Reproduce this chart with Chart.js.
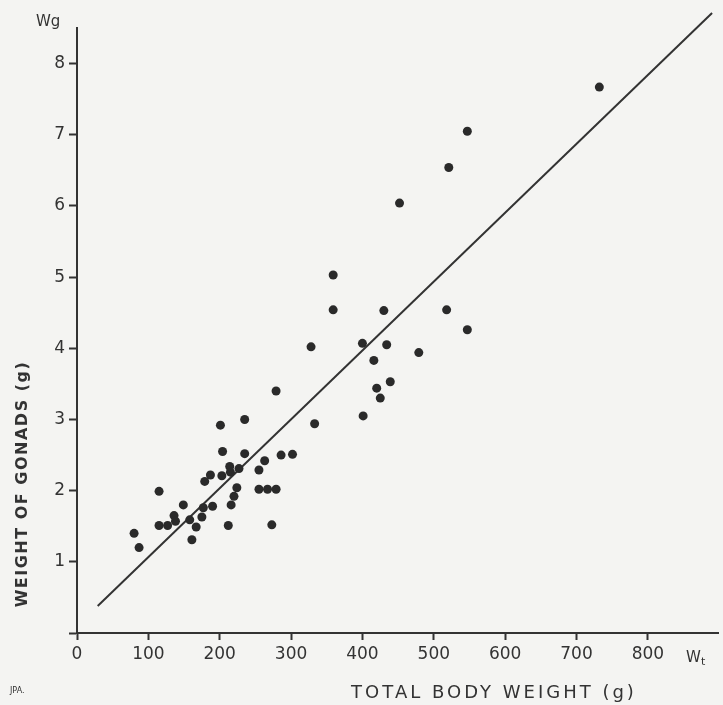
<!DOCTYPE html>
<html>
<head>
<meta charset="utf-8">
<script src="https://cdn.jsdelivr.net/npm/chart.js@4"></script>
<style>
  html, body { margin: 0; padding: 0; background: #f4f4f2; }
  #wrap { width: 723px; height: 705px; position: relative; }
</style>
</head>
<body>
<div id="wrap"><canvas id="gonadChart" width="723" height="705"></canvas></div>
<script>
// total body weight (g) and weight of gonads (g)
const bodyWeight = [
  80, 87, 115, 115, 127, 136, 138, 149, 158, 161, 167, 175, 177, 179, 187, 190,
  201, 203, 204, 212, 214, 215, 216, 220, 224, 227, 235, 235, 255, 255, 263, 267,
  273, 279, 279, 286, 302, 328, 333, 359, 359, 400, 401, 416, 420, 425, 430, 434,
  439, 452, 479, 518, 521, 547, 547, 732
];
const gonadWeight = [
  1.40, 1.20, 1.99, 1.51, 1.51, 1.65, 1.57, 1.80, 1.59, 1.31, 1.49, 1.63, 1.76, 2.13, 2.22, 1.78,
  2.92, 2.21, 2.55, 1.51, 2.34, 2.26, 1.80, 1.92, 2.04, 2.31, 3.00, 2.52, 2.29, 2.02, 2.42, 2.02,
  1.52, 2.02, 3.40, 2.50, 2.51, 4.02, 2.94, 5.03, 4.54, 4.07, 3.05, 3.83, 3.44, 3.30, 4.53, 4.05,
  3.53, 6.04, 3.94, 4.54, 6.54, 4.26, 7.05, 7.67
];
// fitted regression line, end points as drawn
const fitX = [29, 890];
const fitY = [0.38, 8.71];

const xTicks = [0, 100, 200, 300, 400, 500, 600, 700, 800];
const yTicks = [0, 1, 2, 3, 4, 5, 6, 7, 8];

const ink = "#333";
const font = "'DejaVu Sans', sans-serif";

const annotate = {
  id: "annotate",
  afterDraw(chart) {
    const ctx = chart.ctx;
    ctx.save();
    ctx.fillStyle = ink;
    ctx.textBaseline = "alphabetic";
    // axis end labels
    ctx.font = "15px " + font;
    ctx.fillText("Wg", 36, 26);
    ctx.fillText("W", 686, 662);
    ctx.font = "11px " + font;
    ctx.fillText("t", 701, 665);
    // x axis title
    ctx.font = "18px " + font;
    ctx.letterSpacing = "3px";
    ctx.textAlign = "center";
    ctx.fillText("TOTAL BODY WEIGHT (g)", 494, 698);
    // y axis title
    ctx.translate(27, 484);
    ctx.rotate(-Math.PI / 2);
    ctx.letterSpacing = "1.5px";
    ctx.font = "bold 16px " + font;
    ctx.fillText("WEIGHT OF GONADS (g)", 0, 0);
    ctx.restore();
    ctx.save();
    ctx.fillStyle = ink;
    ctx.font = "8px " + font;
    ctx.fillText("JPA.", 10, 693);
    ctx.restore();
  }
};

new Chart(document.getElementById("gonadChart"), {
  data: {
    datasets: [
      {
        type: "scatter",
        data: bodyWeight.map((x, i) => ({ x: x, y: gonadWeight[i] })),
        pointRadius: 4.5,
        pointHoverRadius: 4.5,
        pointBackgroundColor: "#2a2a2a",
        pointBorderWidth: 0
      },
      {
        type: "line",
        data: fitX.map((x, i) => ({ x: x, y: fitY[i] })),
        borderColor: ink,
        borderWidth: 2,
        pointRadius: 0,
        fill: false,
        clip: false
      }
    ]
  },
  options: {
    responsive: false,
    animation: false,
    events: [],
    layout: { padding: { top: 28, right: 0, left: 0, bottom: 0 } },
    plugins: { legend: { display: false }, tooltip: { enabled: false } },
    scales: {
      x: {
        type: "linear",
        min: 0,
        max: 899,
        afterBuildTicks: s => { s.ticks = xTicks.map(v => ({ value: v })); },
        afterFit: s => { s.height = 72; },
        grid: { drawOnChartArea: false, tickLength: 7, tickColor: ink, tickWidth: 2 },
        border: { color: ink, width: 2 },
        ticks: { color: ink, font: { family: font, size: 17 }, padding: 4, maxRotation: 0 }
      },
      y: {
        type: "linear",
        min: 0,
        max: 8.5,
        afterBuildTicks: s => { s.ticks = yTicks.map(v => ({ value: v })); },
        afterFit: s => { s.width = 77; },
        grid: { drawOnChartArea: false, tickLength: 8, tickColor: ink, tickWidth: 2 },
        border: { color: ink, width: 2 },
        ticks: { color: ink, font: { family: font, size: 17 }, padding: 4, callback: v => v === 0 ? "" : v }
      }
    }
  },
  plugins: [annotate]
});
</script>
</body>
</html>
